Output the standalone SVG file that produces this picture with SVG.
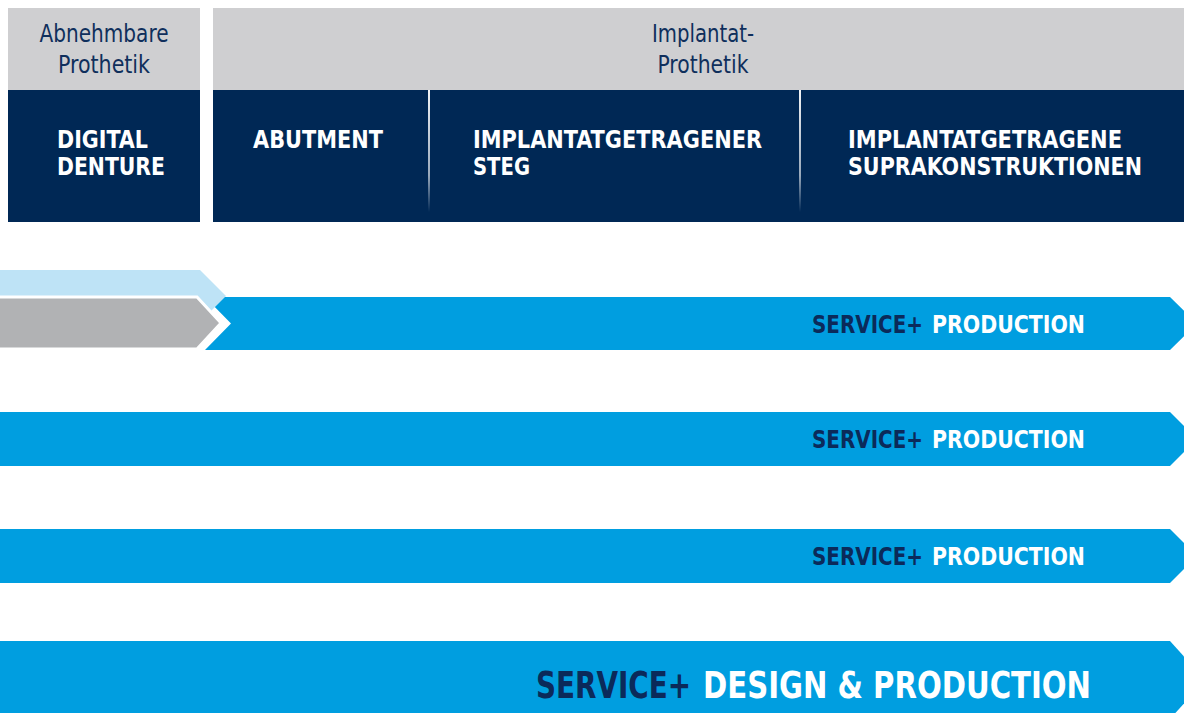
<svg xmlns="http://www.w3.org/2000/svg" width="1184" height="713" viewBox="0 0 1184 713">
  <defs>
    <linearGradient id="sep" x1="0" y1="0" x2="0" y2="1">
      <stop offset="0" stop-color="#ffffff" stop-opacity="0.95"/>
      <stop offset="0.7" stop-color="#ffffff" stop-opacity="0.6"/>
      <stop offset="1" stop-color="#ffffff" stop-opacity="0"/>
    </linearGradient>
    <style>
      .hdr { fill: #cfcfd1; }
      .navy { fill: #002855; }
      .band { fill: #009ee0; }
      .cat { font-family: "Liberation Sans Narrow", "DejaVu Sans Condensed", "Liberation Sans", sans-serif; font-size: 24px; fill: #0f2f5c; text-anchor: middle; }
      .ttl { font-family: "Liberation Sans Narrow", "DejaVu Sans Condensed", "Liberation Sans", sans-serif; font-size: 25px; font-weight: bold; fill: #ffffff; }
      .svc { font-family: "Liberation Sans Narrow", "DejaVu Sans Condensed", "Liberation Sans", sans-serif; font-size: 24px; font-weight: bold; }
      .big { font-size: 37px; }
      .dk { fill: #0b2a5a; }
      .wh { fill: #ffffff; }
    </style>
  </defs>
  <rect width="1184" height="713" fill="#ffffff"/>

  <g id="node-abnehmbare">
    <rect class="hdr" x="8" y="8" width="192" height="82"/>
    <rect class="navy" x="8" y="90" width="192" height="132"/>
    <text class="cat" x="104" y="42" textLength="129" lengthAdjust="spacingAndGlyphs">Abnehmbare</text>
    <text class="cat" x="104" y="73" textLength="92" lengthAdjust="spacingAndGlyphs">Prothetik</text>
    <text class="ttl" x="57" y="148" textLength="91" lengthAdjust="spacingAndGlyphs">DIGITAL</text>
    <text class="ttl" x="57" y="175" textLength="108" lengthAdjust="spacingAndGlyphs">DENTURE</text>
  </g>

  <g id="node-implantat">
    <rect class="hdr" x="213" y="8" width="971" height="82"/>
    <rect class="navy" x="213" y="90" width="971" height="132"/>
    <text class="cat" x="703" y="42" textLength="102" lengthAdjust="spacingAndGlyphs">Implantat-</text>
    <text class="cat" x="703" y="73" textLength="91" lengthAdjust="spacingAndGlyphs">Prothetik</text>
    <rect x="428" y="90" width="2" height="122" fill="url(#sep)"/>
    <rect x="799" y="90" width="2" height="122" fill="url(#sep)"/>
  </g>

  <g id="node-abutment">
    <text class="ttl" x="253" y="148" textLength="130" lengthAdjust="spacingAndGlyphs">ABUTMENT</text>
  </g>
  <g id="node-steg">
    <text class="ttl" x="473" y="148" textLength="289" lengthAdjust="spacingAndGlyphs">IMPLANTATGETRAGENER</text>
    <text class="ttl" x="473" y="175" textLength="57" lengthAdjust="spacingAndGlyphs">STEG</text>
  </g>
  <g id="node-supra">
    <text class="ttl" x="848" y="148" textLength="274" lengthAdjust="spacingAndGlyphs">IMPLANTATGETRAGENE</text>
    <text class="ttl" x="848" y="175" textLength="294" lengthAdjust="spacingAndGlyphs">SUPRAKONSTRUKTIONEN</text>
  </g>

  <g id="band-1">
    <polygon class="band" points="205,297 1170,297 1197,323.5 1170,350 205,350 231,323.5"/>
    <polygon fill="#bee3f6" points="0,270 200,270 226,296 200,322 0,322"/>
    <polygon fill="#b1b2b4" stroke="#ffffff" stroke-width="3" points="-5,297 197,297 221,323 197,349 -5,349"/>
    <text class="svc dk" x="812" y="333" textLength="111" lengthAdjust="spacingAndGlyphs">SERVICE+</text>
    <text class="svc wh" x="932" y="333" textLength="153" lengthAdjust="spacingAndGlyphs">PRODUCTION</text>
  </g>

  <g id="band-2">
    <polygon class="band" points="0,412 1170,412 1197,439 1170,466 0,466"/>
    <text class="svc dk" x="812" y="448" textLength="111" lengthAdjust="spacingAndGlyphs">SERVICE+</text>
    <text class="svc wh" x="932" y="448" textLength="153" lengthAdjust="spacingAndGlyphs">PRODUCTION</text>
  </g>

  <g id="band-3">
    <polygon class="band" points="0,529 1170,529 1197,556 1170,583 0,583"/>
    <text class="svc dk" x="812" y="565" textLength="111" lengthAdjust="spacingAndGlyphs">SERVICE+</text>
    <text class="svc wh" x="932" y="565" textLength="153" lengthAdjust="spacingAndGlyphs">PRODUCTION</text>
  </g>

  <g id="band-4">
    <polygon class="band" points="0,641 1170,641 1205,680 1170,719 0,719"/>
    <text class="svc big dk" transform="translate(536,698) scale(0.8,1)" x="0" y="0" textLength="193.75" lengthAdjust="spacingAndGlyphs">SERVICE+</text>
    <text class="svc big wh" transform="translate(703,698) scale(0.8,1)" x="0" y="0" textLength="485" lengthAdjust="spacingAndGlyphs">DESIGN &amp; PRODUCTION</text>
  </g>
</svg>
